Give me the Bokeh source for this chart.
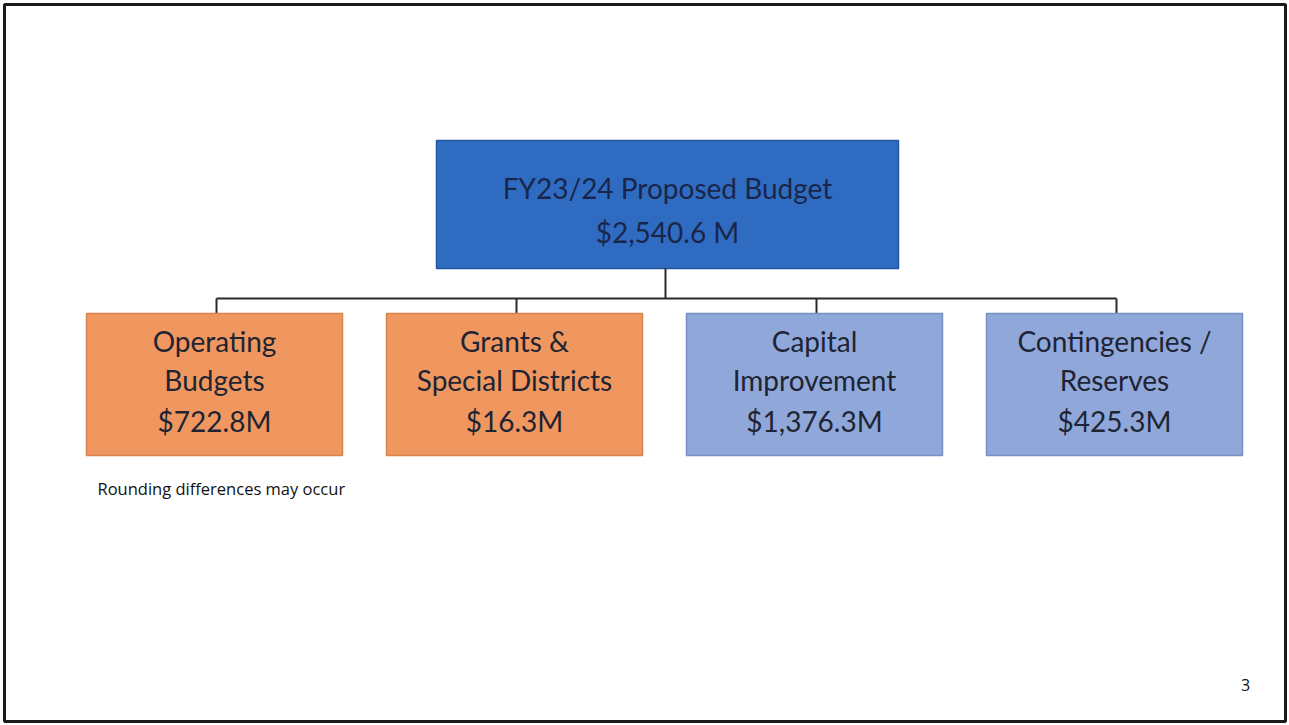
from bokeh.plotting import figure
from bokeh.models import Range1d, ColumnDataSource
from bokeh.core.properties import value
from bokeh.embed import file_html
from bokeh.resources import INLINE

# ---- data ----
title_text = "FY23/24 Proposed Budget"
total_amount = 2540.6
categories = ["Operating\nBudgets", "Grants &\nSpecial Districts", "Capital\nImprovement", "Contingencies /\nReserves"]
amounts = [722.8, 16.3, 1376.3, 425.3]
group_colors = ["#F0975F", "#F0975F", "#8FA8D9", "#8FA8D9"]
group_borders = ["#D8844E", "#D8844E", "#7490C6", "#7490C6"]
note_text = "Rounding differences may occur"
page_number = "3"

# ---- layout ----
W, H = 1288, 724
p = figure(width=W, height=H, output_backend="svg", toolbar_location=None,
           x_range=Range1d(0, W), y_range=Range1d(H, 0),
           min_border=0, background_fill_color="white", border_fill_color="white")
p.axis.visible = False
p.grid.visible = False
p.outline_line_color = None

# slide frame
p.quad(left=[4], right=[1285], top=[4], bottom=[721], fill_color=None,
       line_color="#1a1a1a", line_width=3)

font = value("Lato")
txt_color = "#1E2433"

# top box
top_l, top_r, top_t, top_b = 436, 898, 140, 268
p.quad(left=[top_l], right=[top_r], top=[top_t], bottom=[top_b],
       fill_color="#2F6CC1", line_color="#24569E", line_width=1.5)
p.text(x=[(top_l + top_r) / 2] * 2, y=[187, 231],
       text=[title_text, "${:,.1f} M".format(total_amount)],
       text_font=font, text_font_size="28px", text_color="#19264A",
       text_align="center", text_baseline="middle")

# child boxes
n = len(categories)
left0, step, bw = 86, 300, 256
box_top, box_bot = 313, 455
lefts = [left0 + i * step for i in range(n)]
rights = [l + bw for l in lefts]
centers = [l + bw / 2 + 2 for l in lefts]

# connectors
bus_y = 298
stem_x = (top_l + top_r) / 2 - 2
p.segment(x0=[stem_x], y0=[top_b], x1=[stem_x], y1=[bus_y],
          line_color="#2a2a2a", line_width=2)
p.segment(x0=[centers[0]], y0=[bus_y], x1=[centers[-1]], y1=[bus_y],
          line_color="#2a2a2a", line_width=2)
p.segment(x0=centers, y0=[bus_y] * n, x1=centers, y1=[box_top] * n,
          line_color="#2a2a2a", line_width=2)

p.quad(left=lefts, right=rights, top=[box_top] * n, bottom=[box_bot] * n,
       fill_color=group_colors, line_color=group_borders, line_width=1.5)

xs, ys, ts = [], [], []
line_ys = [340, 379, 420]
for i, (cat, amt) in enumerate(zip(categories, amounts)):
    lines = cat.split("\n") + ["${:,.1f}M".format(amt)]
    for j, t in enumerate(lines):
        xs.append((lefts[i] + rights[i]) / 2)
        ys.append(line_ys[j])
        ts.append(t)
src = ColumnDataSource(dict(x=xs, y=ys, text=ts))
p.text(x="x", y="y", text="text", source=src, text_font=font, text_font_size="28px",
       text_color=txt_color, text_align="center", text_baseline="middle")

# note and page number
p.text(x=[97], y=[488], text=[note_text], text_font=value("Open Sans"),
       text_font_size="16.5px", text_color="#111111", text_align="left", text_baseline="middle")
p.text(x=[1245], y=[684], text=[page_number], text_font=value("Open Sans"),
       text_font_size="16px", text_color="#111111", text_align="center", text_baseline="middle")

open("out.html", "w").write(file_html(p, INLINE))
